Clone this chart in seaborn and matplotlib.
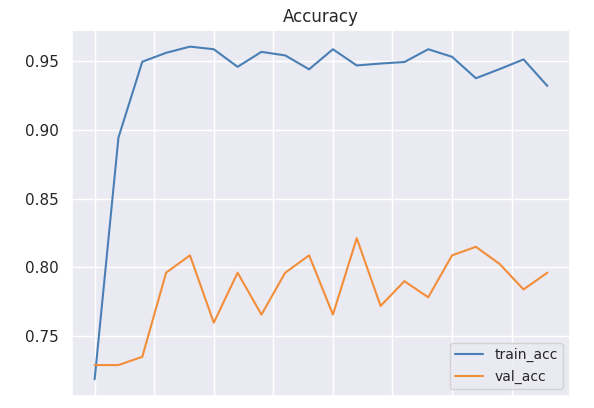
import matplotlib
matplotlib.use("Agg")
import matplotlib.pyplot as plt
import seaborn as sns
import pandas as pd

epochs = list(range(20))
train_acc = [0.7186, 0.8945, 0.9496, 0.9561, 0.9606, 0.9587, 0.9459, 0.9568, 0.9542,
             0.9441, 0.9587, 0.9469, 0.9483, 0.9494, 0.9587, 0.9532, 0.9376, 0.9443,
             0.9513, 0.9320]
val_acc = [0.7290, 0.7290, 0.7350, 0.7962, 0.8088, 0.7598, 0.7962, 0.7657, 0.7962,
           0.8088, 0.7657, 0.8213, 0.7720, 0.7900, 0.7783, 0.8088, 0.8150, 0.8025,
           0.7840, 0.7962]

sns.set_theme(style="darkgrid")
fig, ax = plt.subplots(figsize=(5.94, 4.08), dpi=100)
df = pd.DataFrame({"epoch": epochs, "train_acc": train_acc, "val_acc": val_acc})
sns.lineplot(data=df, x="epoch", y="train_acc", ax=ax, color="#4a7fb5", label="train_acc")
sns.lineplot(data=df, x="epoch", y="val_acc", ax=ax, color="#f28e3a", label="val_acc")
ax.set_title("Accuracy")
ax.set_xlabel("")
ax.set_ylabel("")
ax.set_xticklabels([])
ax.legend(loc="lower right", fontsize=10)
fig.subplots_adjust(left=0.1212, right=0.9596, top=0.9265, bottom=0.0294)
fig.savefig("out.png", dpi=100)
